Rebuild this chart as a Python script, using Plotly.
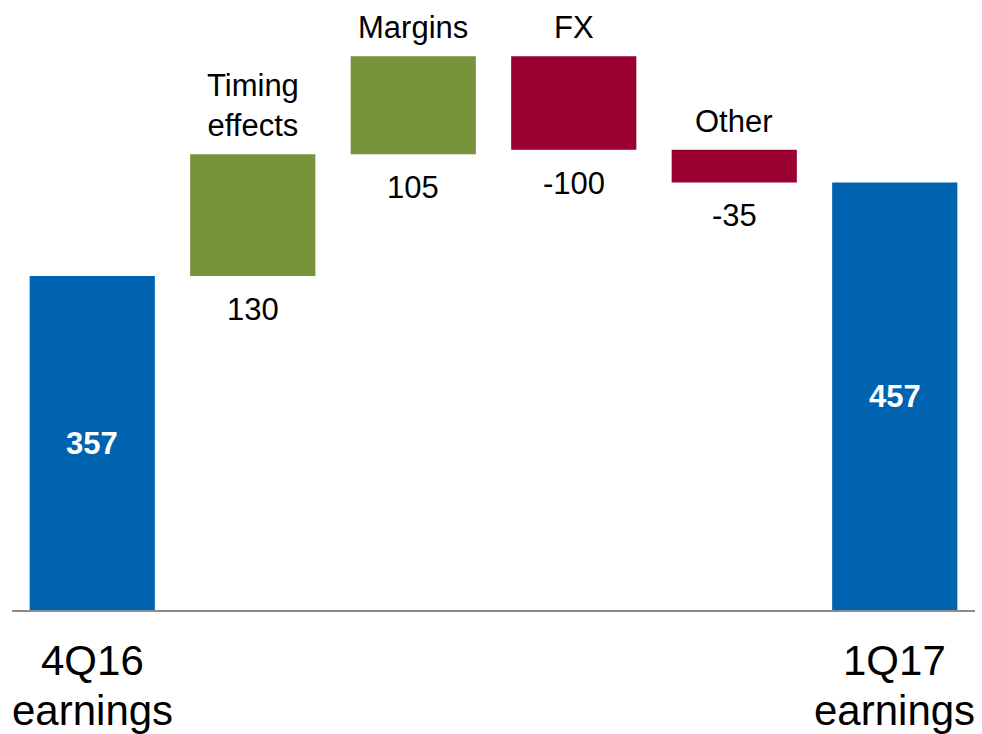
import plotly.graph_objects as go

# Earnings bridge from 4Q16 to 1Q17
categories = ["4Q16<br>earnings", "Timing<br>effects", "Margins", "FX", "Other", "1Q17<br>earnings"]
measures = ["absolute", "relative", "relative", "relative", "relative", "total"]
values = [357, 130, 105, -100, -35, 457]
value_labels = ["357", "130", "105", "-100", "-35", "457"]

GREEN = "#77933C"
RED = "#990030"
BLUE = "#0063AF"
FONT = "Liberation Sans, Arial, sans-serif"

fig = go.Figure(go.Waterfall(
    x=list(range(len(categories))),
    y=[v if m != "total" else 0 for v, m in zip(values, measures)],
    measure=measures,
    width=0.78,
    increasing=dict(marker=dict(color=GREEN)),
    decreasing=dict(marker=dict(color=RED)),
    totals=dict(marker=dict(color=BLUE)),
    connector=dict(visible=False),
    hoverinfo="skip",
))

annotations = []
running = 0
for i, (cat, m, v, lab) in enumerate(zip(categories, measures, values, value_labels)):
    if m in ("absolute", "total"):
        running = v
        # value inside the total bar
        annotations.append(dict(x=i, y=v / 2, text=f"<b>{lab}</b>", showarrow=False,
                                font=dict(size=31, color="white", family=FONT)))
        # category label under the axis, one annotation per line
        for k, line in enumerate(cat.split("<br>")):
            annotations.append(dict(x=i, y=0, yanchor="middle", yshift=-50 - 50 * k,
                                    text=line, showarrow=False,
                                    font=dict(size=42, color="black", family=FONT)))
    else:
        lo, hi = sorted([running, running + v])
        running += v
        annotations.append(dict(x=i, y=hi, yanchor="bottom", yshift=9, text=cat,
                                showarrow=False, font=dict(size=31, color="black", family=FONT)))
        annotations.append(dict(x=i, y=lo, yanchor="top", yshift=-14, text=lab,
                                showarrow=False, font=dict(size=31, color="black", family=FONT)))

fig.update_layout(
    width=982, height=734,
    margin=dict(l=12, r=7, t=0, b=124),
    paper_bgcolor="white", plot_bgcolor="white",
    showlegend=False,
    annotations=annotations,
    xaxis=dict(range=[-0.5, 5.5], showticklabels=False, showgrid=False, zeroline=False,
               showline=True, linecolor="#8C8C8C", linewidth=2, ticks=""),
    yaxis=dict(range=[0, 652], visible=False, showgrid=False, zeroline=False),
    font=dict(family=FONT),
)

fig.write_html("out.html")
